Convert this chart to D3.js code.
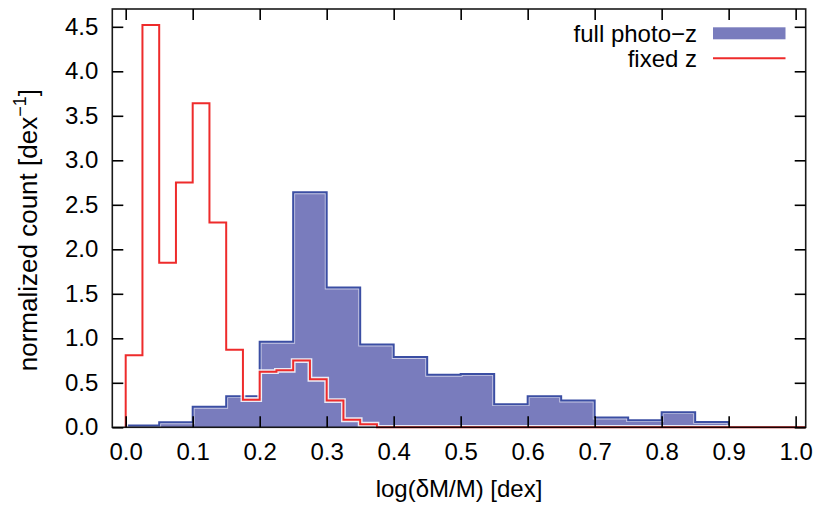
<!DOCTYPE html>
<html>
<head>
<meta charset="utf-8">
<script src="https://cdn.jsdelivr.net/npm/d3@7"></script>
<style>
  html, body { margin: 0; padding: 0; background: #fff; }
  text { font-family: "Liberation Sans", Helvetica, Arial, sans-serif; }
</style>
</head>
<body>
<svg id="chart" width="815" height="506"></svg>
<script>
// ---- data ----
// full photo-z histogram: bins of width 0.05 starting at 0.0
const blueBinStarts = [0.00, 0.05, 0.10, 0.15, 0.20, 0.25, 0.30, 0.35, 0.40, 0.45, 0.50, 0.55, 0.60, 0.65, 0.70, 0.75, 0.80, 0.85];
const blueValues    = [0.02, 0.056, 0.23, 0.35, 0.96, 2.64, 1.57, 0.93, 0.79, 0.59, 0.60, 0.26, 0.35, 0.30, 0.11, 0.08, 0.17, 0.06];
const blueBinWidth = 0.05;
// fixed z histogram: bins of width 0.025 starting at 0.0
const redBinStarts = [0.000, 0.025, 0.050, 0.075, 0.100, 0.125, 0.150, 0.175, 0.200, 0.225, 0.250, 0.275, 0.300, 0.325, 0.350];
const redValues    = [0.81, 4.52, 1.85, 2.75, 3.64, 2.30, 0.87, 0.31, 0.625, 0.64, 0.75, 0.54, 0.30, 0.085, 0.034];
const redBinWidth = 0.025;
const xTicks = [0.0, 0.1, 0.2, 0.3, 0.4, 0.5, 0.6, 0.7, 0.8, 0.9, 1.0];
const yTicks = [0.0, 0.5, 1.0, 1.5, 2.0, 2.5, 3.0, 3.5, 4.0, 4.5];
const legendLabels = ["full photo\u2212z", "fixed z"];

// ---- layout ----
const L = 112.3, R = 805.7, T = 9, B = 427.3;
const svg = d3.select("#chart");
const x = d3.scaleLinear().domain([-0.02, 1.015]).range([L, R]);
const y = d3.scaleLinear().domain([0, 4.7]).range([B, T]);

const blueCol = "#797cbd", blueStroke = "#3b4ea3", redCol = "#ee2b2b";

function stepPath(starts, vals, w, extendTo) {
  const p = d3.path();
  p.moveTo(x(starts[0]), y(0));
  starts.forEach((s, i) => {
    p.lineTo(x(s), y(vals[i]));
    p.lineTo(x(s + w), y(vals[i]));
  });
  const last = starts[starts.length - 1] + w;
  p.lineTo(x(last), y(0));
  if (extendTo !== undefined) p.lineTo(x(extendTo), y(0));
  return p.toString();
}

const g = svg.append("g");
const bluePath = stepPath(blueBinStarts, blueValues, blueBinWidth);
g.append("path").attr("d", bluePath + "Z").attr("fill", blueCol).attr("stroke", "none");
g.append("path").attr("d", bluePath).attr("fill", "none").attr("stroke", "#fff").attr("stroke-width", 3.8).attr("stroke-opacity", 0.6);
g.append("path").attr("d", bluePath).attr("fill", "none").attr("stroke", blueStroke).attr("stroke-width", 2);

const redPath = stepPath(redBinStarts, redValues, redBinWidth, 1.015);
g.append("path").attr("d", redPath).attr("fill", "none").attr("stroke", "#fff").attr("stroke-width", 4.8).attr("stroke-opacity", 0.85);
g.append("path").attr("d", redPath).attr("fill", "none").attr("stroke", redCol).attr("stroke-width", 2);

// frame
svg.append("rect").attr("x", L).attr("y", T).attr("width", R - L).attr("height", B - T)
  .attr("fill", "none").attr("stroke", "#000").attr("stroke-width", 1.6).attr("stroke-opacity", 0.9);

const fs = "24px";
const ax = svg.append("g").attr("transform", `translate(0,${B})`)
  .call(d3.axisBottom(x).tickValues(xTicks).tickFormat(d3.format(".1f")).tickSizeInner(-11).tickSizeOuter(0).tickPadding(16));
const axTop = svg.append("g").attr("transform", `translate(0,${T})`)
  .call(d3.axisTop(x).tickValues(xTicks).tickFormat("").tickSizeInner(-11).tickSizeOuter(0));
const ay = svg.append("g").attr("transform", `translate(${L},0)`)
  .call(d3.axisLeft(y).tickValues(yTicks).tickFormat(d3.format(".1f")).tickSizeInner(-11).tickSizeOuter(0).tickPadding(14));
const ayR = svg.append("g").attr("transform", `translate(${R},0)`)
  .call(d3.axisRight(y).tickValues(yTicks).tickFormat("").tickSizeInner(-11).tickSizeOuter(0));
[ax, axTop, ay, ayR].forEach(a => {
  a.select(".domain").remove();
  a.selectAll(".tick line").attr("stroke", "#000").attr("stroke-width", 1.6);
  a.selectAll(".tick text").attr("font-size", fs).attr("fill", "#000")
    .style("font-family", '"Liberation Sans", Helvetica, Arial, sans-serif');
});

// axis titles
svg.append("text").attr("x", (L + R) / 2).attr("y", 497).attr("text-anchor", "middle")
  .attr("font-size", "24px").text("log(\u03b4M/M) [dex]");
const yt = svg.append("text").attr("transform", `translate(37,${(T + B) / 2 + 12}) rotate(-90)`)
  .attr("text-anchor", "middle").attr("font-size", "26px");
yt.append("tspan").text("normalized count [dex");
yt.append("tspan").attr("dy", -11).attr("font-size", "18px").text("\u22121");
yt.append("tspan").attr("dy", 11).text("]");

// legend
const lg = svg.append("g");
lg.append("text").attr("x", 697).attr("y", 41.5).attr("text-anchor", "end").attr("font-size", "24px").text(legendLabels[0]);
lg.append("text").attr("x", 697).attr("y", 66.5).attr("text-anchor", "end").attr("font-size", "24px").text(legendLabels[1]);
lg.append("rect").attr("x", 713).attr("y", 27.3).attr("width", 72.5).attr("height", 12).attr("fill", blueCol);
lg.append("line").attr("x1", 713).attr("x2", 785.5).attr("y1", 58.3).attr("y2", 58.3).attr("stroke", redCol).attr("stroke-width", 2);
</script>
</body>
</html>
